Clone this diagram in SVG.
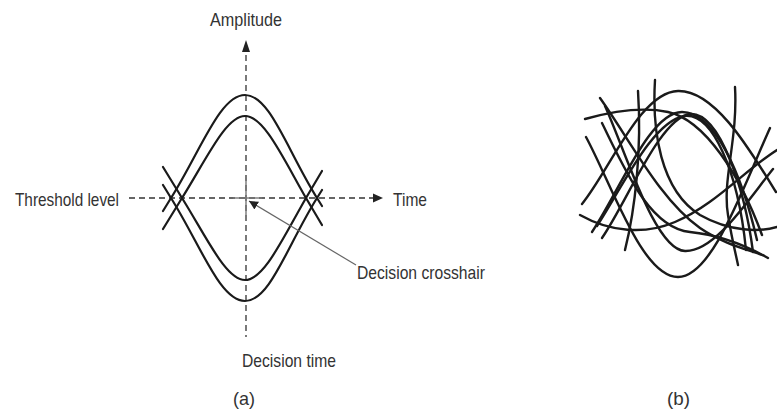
<svg xmlns="http://www.w3.org/2000/svg" width="777" height="416" viewBox="0 0 777 416">
<style>
.t{font-family:"Liberation Sans",Arial,sans-serif;font-size:19px;fill:#333}
.dash{stroke:#333;stroke-width:1.3;stroke-dasharray:6 4;fill:none}
.eye{stroke:#1a1a1a;stroke-width:2.2;fill:none;stroke-linejoin:round;stroke-linecap:round}
.tr{stroke:#1a1a1a;stroke-width:2.4;fill:none;stroke-linecap:round}
.cross{stroke:#777;stroke-width:1.4;fill:none}
</style>
<defs>
<marker id="ah" viewBox="0 0 10 10" refX="10" refY="5" markerWidth="9" markerHeight="9" markerUnits="userSpaceOnUse" orient="auto">
<path d="M0,0 L10,5 L0,10 Z" fill="#222"/>
</marker>
</defs>
<rect width="777" height="416" fill="#fff"/>
<g id="axes">
<line class="dash" x1="246" y1="55" x2="246" y2="337"/>
<path d="M246,40 L250,52 L242,52 Z" fill="#222"/>
<line class="dash" x1="129" y1="198" x2="374" y2="198"/>
<path d="M383,198 L373,193.5 L373,202.5 Z" fill="#222"/>
</g>
<g id="eye-a">
<path class="eye" d="M163,211 L171,198 C201,150 220,95 245,95 C270,95 287,150 317,198 L322,206"/>
<path class="eye" d="M163,185 L171,198 C201,246 220,301 245,301 C270,301 287,246 317,198 L322,190"/>
<path class="eye" d="M163,229 L182,198 C207,158 226,116 245,116 C264,116 283,158 306,198 L322,225"/>
<path class="eye" d="M163,167 L182,198 C207,238 226,280 245,280 C264,280 283,238 306,198 L322,171"/>
</g>
<g id="crosshair">
<line class="cross" x1="233" y1="198" x2="262" y2="198"/>
<line class="cross" x1="246" y1="178" x2="246" y2="217"/>
</g>
<g id="connectors">
<line x1="356" y1="265" x2="249" y2="201" stroke="#666" stroke-width="1.2" marker-end="url(#ah)"/>
</g>
<g id="labels-a">
<text class="t" x="210" y="26" textLength="72" lengthAdjust="spacingAndGlyphs">Amplitude</text>
<text class="t" x="15" y="206" textLength="104" lengthAdjust="spacingAndGlyphs">Threshold level</text>
<text class="t" x="393" y="206" textLength="34" lengthAdjust="spacingAndGlyphs">Time</text>
<text class="t" x="357" y="279" textLength="128" lengthAdjust="spacingAndGlyphs">Decision crosshair</text>
<text class="t" x="242" y="367" textLength="94" lengthAdjust="spacingAndGlyphs">Decision time</text>
<text class="t" x="233" y="405" textLength="22" lengthAdjust="spacingAndGlyphs">(a)</text>
</g>
<g id="eye-b">
<path class="tr" d="M582,204 C610,170 640,92 678,91 C715,90 750,150 776,192"/>
<path class="tr" d="M586,137 C612,185 642,277 678,277 C712,277 742,190 770,128"/>
<path class="tr" d="M585,119 C610,112 640,106 668,112 C705,120 740,175 762,235"/>
<path class="tr" d="M605,106 C625,150 655,250 685,251 C715,252 748,200 773,169"/>
<path class="tr" d="M602,123 C625,170 650,228 690,232 C720,235 745,245 768,258"/>
<path class="tr" d="M592,232 C620,190 650,112 682,112 C715,112 742,175 757,240"/>
<path class="tr" d="M602,238 C628,200 660,118 690,114 C720,112 745,190 753,252"/>
<path class="tr" d="M597,226 C622,188 652,122 684,116 C712,112 738,170 746,250"/>
<path class="tr" d="M580,215 C610,232 645,235 675,222 C715,205 745,170 777,150"/>
<path class="tr" d="M625,250 C635,210 642,150 638,91"/>
<path class="tr" d="M655,80 C652,130 660,190 700,215 C730,232 760,232 777,227"/>
<path class="tr" d="M735,87 C738,140 722,180 728,215 C732,240 736,255 738,265"/>
<path class="tr" d="M600,98 C630,140 660,200 700,228 C725,245 750,250 762,255"/>
</g>
<g id="labels-b">
<text class="t" x="667" y="405" textLength="23" lengthAdjust="spacingAndGlyphs">(b)</text>
</g>
</svg>
